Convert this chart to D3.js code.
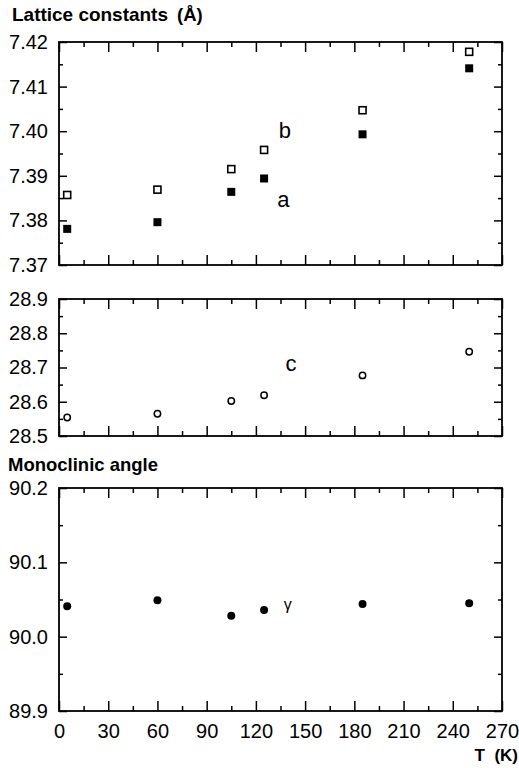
<!DOCTYPE html>
<html><head><meta charset="utf-8">
<script src="https://cdn.jsdelivr.net/npm/d3@7"></script>
<style>body{margin:0;background:#fff}svg{display:block}text{white-space:pre}</style>
</head><body>
<svg id="c" width="519" height="768"></svg>
<script>
// Data
const temps = [5, 60, 105, 125, 185, 250];
const latticeB = [7.3857, 7.3869, 7.3915, 7.3958, 7.4047, 7.4178];
const latticeA = [7.3781, 7.3796, 7.3864, 7.3894, 7.3993, 7.4141];
const latticeC = [28.554, 28.565, 28.602, 28.619, 28.677, 28.746];
const gammaAngle = [90.041, 90.049, 90.028, 90.036, 90.044, 90.045];
const xTicksMajor = [0, 30, 60, 90, 120, 150, 180, 210, 240, 270];
const xTicksMinor = [15, 45, 75, 105, 135, 165, 195, 225, 255];
const yTicks1 = [7.37, 7.38, 7.39, 7.40, 7.41, 7.42];
const yTicks2 = [28.5, 28.6, 28.7, 28.8, 28.9];
const yTicks3 = [89.9, 90.0, 90.1, 90.2];

const svg = d3.select("#c");
const FONT = "'Liberation Sans', Arial, sans-serif";
const x = d3.scaleLinear().domain([0, 270]).range([59, 502]);

function panel(domain, range, majors, minorStep, fmt, showX) {
  const y = d3.scaleLinear().domain(domain).range(range);
  const g = svg.append("g");
  const minors = d3.range(domain[0] + minorStep, domain[1], minorStep * 2).map(v => +v.toFixed(4));
  const top = range[1], bot = range[0];
  // bottom axis
  g.append("g").attr("transform", `translate(0,${bot})`)
    .call(d3.axisBottom(x).tickValues(xTicksMajor).tickSize(-10).tickFormat(showX ? d3.format("d") : "").tickPadding(13))
    .call(s => s.select(".domain").remove());
  g.append("g").attr("transform", `translate(0,${bot})`)
    .call(d3.axisBottom(x).tickValues(xTicksMinor).tickSize(-5).tickFormat(""))
    .call(s => s.select(".domain").remove());
  // top axis
  g.append("g").attr("transform", `translate(0,${top})`)
    .call(d3.axisTop(x).tickValues(xTicksMajor).tickSize(-10).tickFormat(""))
    .call(s => s.select(".domain").remove());
  g.append("g").attr("transform", `translate(0,${top})`)
    .call(d3.axisTop(x).tickValues(xTicksMinor).tickSize(-5).tickFormat(""))
    .call(s => s.select(".domain").remove());
  // left axis
  g.append("g").attr("transform", `translate(${x(0)},0)`)
    .call(d3.axisLeft(y).tickValues(majors).tickSize(-8).tickFormat(d3.format(fmt)).tickPadding(11))
    .call(s => s.select(".domain").remove());
  g.append("g").attr("transform", `translate(${x(0)},0)`)
    .call(d3.axisLeft(y).tickValues(minors).tickSize(-4).tickFormat(""))
    .call(s => s.select(".domain").remove());
  // right axis
  g.append("g").attr("transform", `translate(${x(270)},0)`)
    .call(d3.axisRight(y).tickValues(majors).tickSize(-8).tickFormat(""))
    .call(s => s.select(".domain").remove());
  g.append("g").attr("transform", `translate(${x(270)},0)`)
    .call(d3.axisRight(y).tickValues(minors).tickSize(-4).tickFormat(""))
    .call(s => s.select(".domain").remove());
  // frame
  g.append("rect").attr("x", x(0)).attr("y", top).attr("width", x(270) - x(0)).attr("height", bot - top)
    .attr("fill", "none").attr("stroke", "#000").attr("stroke-width", 1.8);
  g.selectAll(".tick line").attr("stroke", "#000").attr("stroke-width", 1.5);
  g.selectAll(".tick text").attr("font-family", FONT).attr("font-size", 20).attr("fill", "#000");
  return y;
}

const y1 = panel([7.37, 7.42], [265, 42], yTicks1, 0.005, ".2f", false);
const y2 = panel([28.5, 28.9], [436, 299], yTicks2, 0.05, ".1f", false);
const y3 = panel([89.9, 90.2], [711, 488], yTicks3, 0.05, ".1f", true);

// markers
const sq = 7;
svg.append("g").selectAll("rect").data(temps).join("rect")
  .attr("x", (d) => x(d) - sq / 2).attr("y", (d, i) => y1(latticeB[i]) - sq / 2)
  .attr("width", sq).attr("height", sq).attr("fill", "#fff").attr("stroke", "#000").attr("stroke-width", 1.6);
svg.append("g").selectAll("rect").data(temps).join("rect")
  .attr("x", (d) => x(d) - 4).attr("y", (d, i) => y1(latticeA[i]) - 4)
  .attr("width", 8).attr("height", 8).attr("fill", "#000");
svg.append("g").selectAll("circle").data(temps).join("circle")
  .attr("cx", d => x(d)).attr("cy", (d, i) => y2(latticeC[i])).attr("r", 3.2)
  .attr("fill", "#fff").attr("stroke", "#000").attr("stroke-width", 1.5);
svg.append("g").selectAll("circle").data(temps).join("circle")
  .attr("cx", d => x(d)).attr("cy", (d, i) => y3(gammaAngle[i])).attr("r", 4)
  .attr("fill", "#000");

// labels
function txt(t, px, py, size, weight, anchor) {
  return svg.append("text").attr("x", px).attr("y", py).text(t)
    .attr("font-family", FONT).attr("font-size", size).attr("font-weight", weight || "normal")
    .attr("text-anchor", anchor || "start").attr("fill", "#000");
}
txt("Lattice constants", 12, 21, 18.5, "bold").attr("textLength", 156).attr("lengthAdjust", "spacingAndGlyphs");
txt("(Å)", 177, 21, 18.5, "bold");
txt("Monoclinic angle", 8, 471, 18.5, "bold").attr("textLength", 150).attr("lengthAdjust", "spacingAndGlyphs");
txt("T  (K)", 518, 761, 17, "bold", "end");
txt("b", x(134), 138, 22);
txt("a", x(133), 207, 22);
txt("c", x(138), 371, 22);
txt("γ", x(137), 610, 16);
</script>
</body></html>
